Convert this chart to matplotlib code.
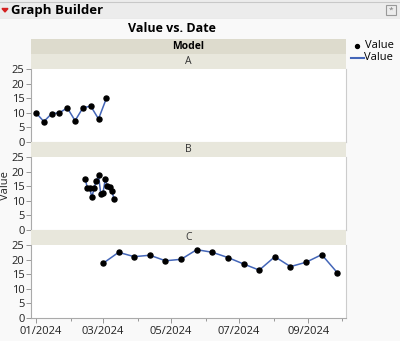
import matplotlib
matplotlib.use('Agg')
import matplotlib.pyplot as plt
import matplotlib.dates as mdates
import matplotlib.transforms as mtransforms
from matplotlib.patches import Rectangle, Polygon
import datetime as dt

plt.rcParams['font.family'] = ['Open Sans', 'DejaVu Sans']

# data
models = ['A', 'B', 'C']
dates_a = ['2024-01-01', '2024-01-08', '2024-01-15', '2024-01-22', '2024-01-29',
           '2024-02-05', '2024-02-12', '2024-02-19', '2024-02-26', '2024-03-04']
values_a = [10.0, 7.0, 9.7, 10.0, 11.7, 7.3, 11.7, 12.3, 7.9, 14.9]
dates_b = ['2024-02-14', '2024-02-16', '2024-02-18', '2024-02-20', '2024-02-22',
           '2024-02-24', '2024-02-26', '2024-02-28', '2024-03-01', '2024-03-03',
           '2024-03-05', '2024-03-07', '2024-03-09', '2024-03-11']
values_b = [17.6, 14.4, 14.5, 11.2, 14.3, 16.8, 18.7, 12.4, 12.7, 17.3, 15.0, 14.6, 13.2, 10.6]
dates_c = ['2024-03-01', '2024-03-15', '2024-03-29', '2024-04-12', '2024-04-26',
           '2024-05-10', '2024-05-24', '2024-06-07', '2024-06-21', '2024-07-05',
           '2024-07-19', '2024-08-02', '2024-08-16', '2024-08-30', '2024-09-13',
           '2024-09-27']
values_c = [18.7, 22.5, 21.0, 21.5, 19.6, 20.1, 23.4, 22.5, 20.7, 18.5, 16.4, 21.0,
            17.6, 19.1, 21.7, 15.5]
series = {'A': (dates_a, values_a), 'B': (dates_b, values_b), 'C': (dates_c, values_c)}
y_ticks = [0, 5, 10, 15, 20, 25]

W, H = 400, 341
bg = '#f9f9f9'
line_col = '#4466b8'

fig = plt.figure(figsize=(W / 100, H / 100), dpi=100, facecolor=bg)

def rect(x, y, w, h):
    return [x / W, 1 - (y + h) / H, w / W, h / H]

# header bar
hdr = fig.add_axes(rect(0, 0, W, 19))
hdr.set_xlim(0, W); hdr.set_ylim(19, 0); hdr.axis('off')
hdr.add_patch(Rectangle((0, 0), W, 19, color='#ececec'))
hdr.plot([0, W], [2, 2], color='#c8c8c8', lw=0.8)
hdr.plot([0, W], [18.5, 18.5], color='#c8c8c8', lw=0.8)
hdr.add_patch(Polygon([[2, 8.5], [8, 8.5], [5, 12]], color='#d42020'))
hdr.text(11, 10.5, 'Graph Builder', fontsize=9.5, fontweight='bold', va='center', ha='left')
hdr.add_patch(Rectangle((386, 5), 10, 10, fill=False, ec='#999999', lw=0.8))
hdr.text(391, 10, '*', fontsize=6, ha='center', va='center', color='#777777')

fig.text(172 / W, 1 - 29 / H, 'Value vs. Date', fontsize=9, fontweight='bold', ha='center', va='center')

x0, x1 = 31, 346
# Model strip
strip = fig.add_axes(rect(x0, 39, x1 - x0, 15))
strip.set_facecolor('#dddbcd'); strip.set_xticks([]); strip.set_yticks([])
for s in strip.spines.values():
    s.set_visible(False)
strip.text(0.5, 0.5, 'Model', fontsize=7.5, fontweight='bold', ha='center', va='center', transform=strip.transAxes)

panel_tops = [54, 142, 230]
xmin = mdates.date2num(dt.datetime(2023, 12, 27, 12))
xmax = mdates.date2num(dt.datetime(2024, 10, 4, 18))

for i, m in enumerate(models):
    top = panel_tops[i]
    st = fig.add_axes(rect(x0, top, x1 - x0, 15))
    st.set_facecolor('#e8e7dc'); st.set_xticks([]); st.set_yticks([])
    for s in st.spines.values():
        s.set_visible(False)
    st.text(0.5, 0.5, m, fontsize=7.5, ha='center', va='center', transform=st.transAxes, color='#333333')

    ax = fig.add_axes(rect(x0, top + 15, x1 - x0, 73))
    ax.set_facecolor('white')
    d, v = series[m]
    dn = [mdates.date2num(dt.datetime.strptime(s, '%Y-%m-%d')) for s in d]
    ax.plot(dn, v, color=line_col, lw=1.1, zorder=2)
    ax.scatter(dn, v, s=13, color='black', zorder=3)
    ax.set_xlim(xmin, xmax)
    ax.set_ylim(0, 25)
    ax.set_yticks(y_ticks)
    ax.tick_params(axis='y', labelsize=8, length=3.6, width=0.6, color='#888888', pad=1, labelcolor='#222222')
    ax.spines['top'].set_visible(False)
    ax.spines['left'].set_color('#aaaaaa')
    ax.spines['right'].set_color('#cccccc')
    ax.spines['bottom'].set_color('#cccccc')
    ax.xaxis.set_major_locator(mdates.MonthLocator(bymonth=[1, 3, 5, 7, 9]))
    ax.xaxis.set_minor_locator(mdates.MonthLocator(bymonth=[2, 4, 6, 8, 10]))
    if i == 2:
        ax.xaxis.set_major_formatter(mdates.DateFormatter('%m/%Y'))
        ax.tick_params(axis='x', which='major', labelsize=8, length=3.6, width=0.6, color='#888888', pad=2, labelcolor='#222222')
        ax.tick_params(axis='x', which='minor', length=2.5, width=0.6, color='#888888')
        ax.spines['bottom'].set_color('#aaaaaa')
        # first date label sits shifted right, inside the figure
        first = ax.get_xticklabels()[0]
        first.set_transform(first.get_transform() + mtransforms.ScaledTranslation(5 / 100, 0, fig.dpi_scale_trans))
    else:
        ax.tick_params(axis='x', which='both', length=0, labelbottom=False)

fig.text(6 / W, 1 - 186 / H, 'Value', fontsize=8, rotation=90, ha='center', va='center', color='#222222')

# legend
lg = fig.add_axes(rect(346, 38, 54, 30))
lg.set_xlim(346, 400); lg.set_ylim(68, 38); lg.axis('off')
lg.scatter([357], [46], s=8, color='black')
lg.text(365, 46, 'Value', fontsize=8, va='center', ha='left')
lg.plot([351, 364], [58, 58], color=line_col, lw=1.5)
lg.text(364, 58, 'Value', fontsize=8, va='center', ha='left')

fig.savefig('out.png', dpi=100, facecolor=bg)
